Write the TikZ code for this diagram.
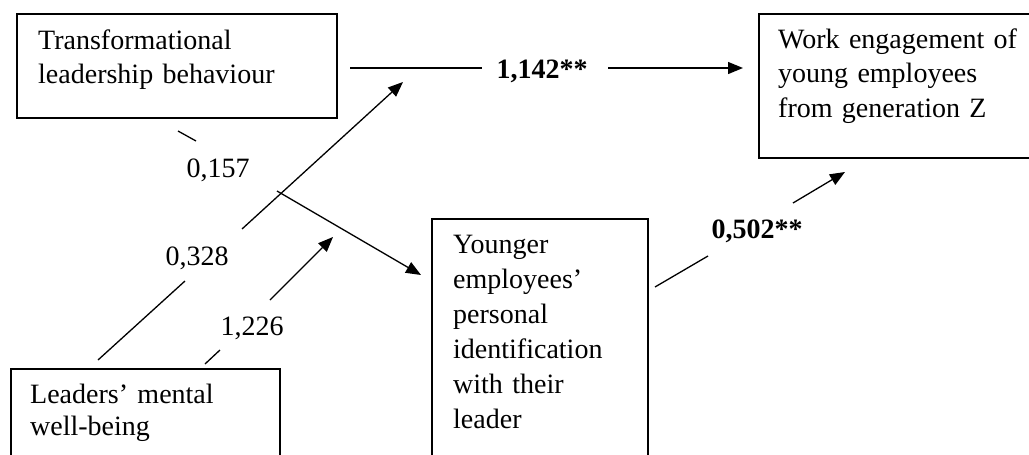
\documentclass[tikz,border=0pt]{standalone}
\usepackage{fontspec}
\setmainfont{Liberation Serif}
\usetikzlibrary{arrows.meta}
\begin{document}
\begin{tikzpicture}[x=1pt,y=-1pt,
  box/.style={draw, line width=2.4pt, inner sep=0pt, anchor=north west},
  txt/.style={anchor=base west, inner sep=0pt, align=left, font=\fontsize{28}{34}\selectfont},
  lbl/.style={anchor=base, inner sep=0pt, font=\fontsize{28}{34}\selectfont},
  conn/.style={line width=1.3pt},
  arr/.style={conn, -{Triangle[length=15pt,width=12pt]}}]
\path[use as bounding box] (0,0) rectangle (1029,455);
\clip (0,0) rectangle (1029,455);
% boxes
\node[box, minimum width=320pt, minimum height=104pt] (tl) at (16,13) {};
\node[box, minimum width=269pt, minimum height=120pt] (lw) at (10,368) {};
\node[box, minimum width=216pt, minimum height=260pt] (ye) at (431,218) {};
\node[box, minimum width=300pt, minimum height=144pt] (we) at (758,13) {};
% texts
\node[txt, text width=290pt] (tlt) at (38,49) {Transformational\\leadership behaviour};
\node[txt, text width=250pt, font=\fontsize{28}{32}\selectfont] (lwt) at (30,403) {Leaders’ mental\\well-being};
\node[txt, text width=190pt, font=\fontsize{28}{35}\selectfont] (yet) at (453,253) {Younger\\employees’\\personal\\identification\\with their\\leader};
\node[txt, text width=250pt, font=\fontsize{28}{35}\selectfont] (wet) at (778,48) {Work engagement of\\young employees\\from generation Z};
% labels
\node[lbl, font=\fontsize{28}{34}\selectfont\bfseries] (l1) at (542,78) {1,142**};
\node[lbl] (l2) at (197,265) {0,328};
\node[lbl] (l3) at (218,177) {0,157};
\node[lbl] (l4) at (252,335) {1,226};
\node[lbl, font=\fontsize{28}{34}\selectfont\bfseries] (l5) at (757,238) {0,502**};
% connector points
\coordinate (a1) at (350,68); \coordinate (a2) at (482,68);
\coordinate (a3) at (608,68); \coordinate (a4) at (743,68);
\coordinate (b1) at (98,360); \coordinate (b2) at (185,281);
\coordinate (b3) at (242,229); \coordinate (b4) at (403,82);
\coordinate (c1) at (178,131); \coordinate (c2) at (196,141);
\coordinate (c3) at (277,191); \coordinate (c4) at (421,275);
\coordinate (d1) at (205,364); \coordinate (d2) at (220,350);
\coordinate (d3) at (270,300); \coordinate (d4) at (333,237);
\coordinate (e1) at (655,287); \coordinate (e2) at (708,256);
\coordinate (e3) at (793,203); \coordinate (e4) at (845,172);
% connectors
\draw[conn] (a1) -- (a2); \draw[arr] (a3) -- (a4);
\draw[conn] (b1) -- (b2); \draw[arr] (b3) -- (b4);
\draw[conn] (c1) -- (c2); \draw[arr] (c3) -- (c4);
\draw[conn] (d1) -- (d2); \draw[arr] (d3) -- (d4);
\draw[conn] (e1) -- (e2); \draw[arr] (e3) -- (e4);
\end{tikzpicture}
\end{document}
